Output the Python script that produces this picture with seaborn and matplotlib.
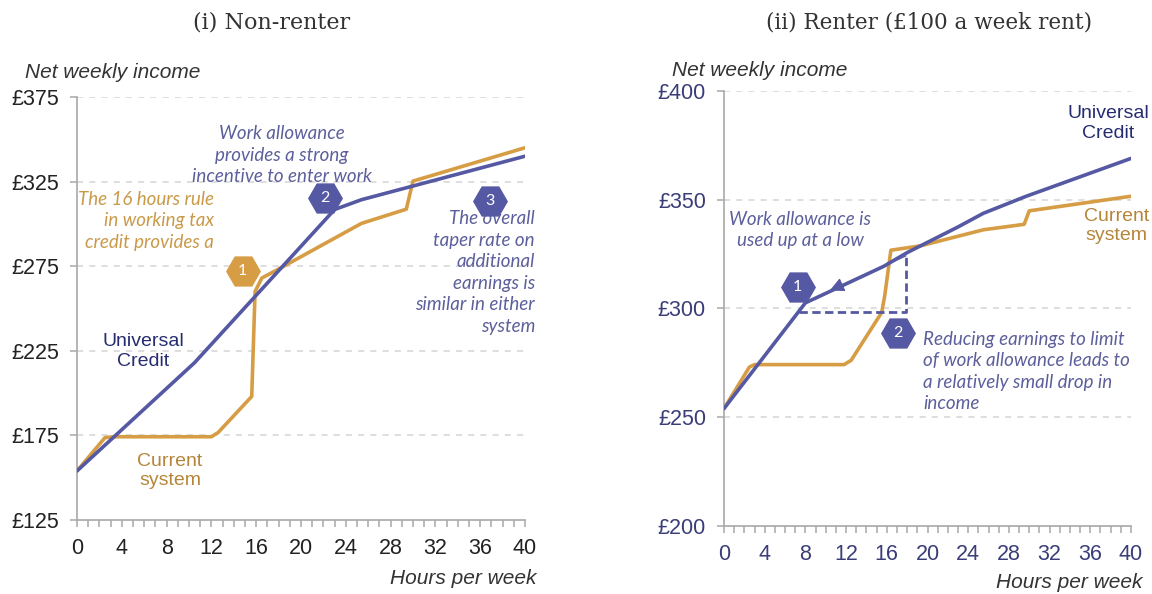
import matplotlib
matplotlib.use("Agg")
import matplotlib.pyplot as plt
import seaborn as sns
import numpy as np
import pandas as pd

# ---------------- data ----------------
hours_ticks = [0, 4, 8, 12, 16, 20, 24, 28, 32, 36, 40]

# (i) Non-renter
uc_nr_hours = [0, 10.5, 23.0, 25.4, 40]
uc_nr_income = [154, 218, 308.5, 314.3, 340]
cs_nr_hours = [0, 2.5, 3.3, 12.0, 12.6, 15.6, 15.9, 16.5, 17.8, 25.4, 29.4, 30.0, 40]
cs_nr_income = [154, 173.7, 174.2, 174.2, 176.7, 198, 260, 268, 272.6, 300.3, 308.7, 325.3, 345]
nr_yticks = [125, 175, 225, 275, 325, 375]

# (ii) Renter
uc_r_hours = [0, 8, 10.3, 15.7, 18, 23, 25.5, 29.7, 40]
uc_r_income = [254, 302.6, 307.6, 319.4, 325.7, 337.5, 343.8, 351.6, 369]
cs_r_hours = [0, 2.5, 3, 11.8, 12.5, 15.5, 15.8, 16.4, 19.3, 25.5, 29.5, 30, 40]
cs_r_income = [254, 273.1, 274.2, 274.2, 276.2, 298.2, 306, 326.8, 328.8, 336.2, 338.7, 344.9, 351.6]
r_yticks = [200, 250, 300, 350, 400]

# work allowance illustration (renter)
wa_hours = [7.33, 17.93, 17.93]
wa_income = [298.5, 298.5, 323.5]

# ---------------- style ----------------
sns.set_theme(style="white")
plt.rcParams['font.family'] = ['Liberation Sans', 'DejaVu Sans']

BLUE = "#5558a2"
ORANGE = "#d69d45"
NAVY = "#252c70"
ANNO_BLUE = "#5d5f9c"
ANNO_ORANGE = "#c99a4a"
LBL_ORANGE = "#b5863a"
GRID = "#d4d4d4"
SPINE = "#a8a8a8"
ANNO_FONT = dict(family=['Lato', 'DejaVu Sans'], style='italic', fontweight='normal')
LS_ANNO = 1.32
LS_LBL = 1.2

fig = plt.figure(figsize=(11.52, 5.94), dpi=100)
W, H = 1152, 594
ax1 = fig.add_axes([77 / W, 1 - 520 / H, 448 / W, 423 / H])
ax2 = fig.add_axes([724 / W, 1 - 526 / H, 407 / W, 435 / H])


def style_axis(ax, yticks, ylabcolor):
    ax.set_xlim(0, 40)
    ax.set_ylim(yticks[0], yticks[-1])
    ax.set_xticks(hours_ticks)
    ax.set_xticks(np.arange(0, 41, 1), minor=True)
    ax.set_yticks(yticks)
    ax.set_xticklabels([str(h) for h in hours_ticks], fontsize=15.5, color=ylabcolor)
    ax.set_yticklabels([f"£{v}" for v in yticks], fontsize=15.5, color=ylabcolor)
    for y in yticks[1:]:
        ax.axhline(y, color=GRID, lw=1.1, ls=(0, (4, 4)), zorder=0)
    for s in ['top', 'right']:
        ax.spines[s].set_visible(False)
    for s in ['left', 'bottom']:
        ax.spines[s].set_color(SPINE)
        ax.spines[s].set_linewidth(1.2)
    ax.tick_params(axis='x', which='both', direction='out', length=5, width=1.1,
                   color=SPINE, bottom=True)
    ax.tick_params(axis='x', which='major', pad=8)
    ax.tick_params(axis='y', which='major', direction='out', length=5, width=1.1,
                   color=SPINE, left=True, pad=8)
    ax.set_xlabel("")
    ax.set_ylabel("")


def hexmark(ax, x, y, label, color):
    ax.plot([x], [y], marker='H', ms=24, color=color, mec=color, zorder=6, clip_on=False)
    ax.text(x, y, label, ha='center', va='center', color='white', fontsize=11.5,
            family=['Lato', 'DejaVu Sans'], zorder=7)


# ---------------- panel (i) ----------------
sns.lineplot(x=uc_nr_hours, y=uc_nr_income, ax=ax1, color=BLUE, lw=2.6, zorder=4)
sns.lineplot(x=cs_nr_hours, y=cs_nr_income, ax=ax1, color=ORANGE, lw=2.6, zorder=3)
style_axis(ax1, nr_yticks, "#222222")

ax1.text(18.3, 340.6, "Work allowance\nprovides a strong\nincentive to enter work",
         ha='center', va='center', color=ANNO_BLUE, fontsize=13.5, linespacing=LS_ANNO,
         **ANNO_FONT)
ax1.text(12.2, 301.9, "The 16 hours rule\nin working tax\ncredit provides a",
         ha='right', va='center', color=ANNO_ORANGE, fontsize=13.5, linespacing=LS_ANNO,
         **ANNO_FONT)
ax1.text(40.9, 271.3, "The overall\ntaper rate on\nadditional\nearnings is\nsimilar in either\nsystem",
         ha='right', va='center', color=ANNO_BLUE, fontsize=13.5, linespacing=LS_ANNO,
         clip_on=False, **ANNO_FONT)
ax1.text(5.9, 224.5, "Universal\nCredit", ha='center', va='center', color=NAVY,
         fontsize=14, linespacing=LS_LBL)
ax1.text(8.3, 154, "Current\nsystem", ha='center', va='center', color=LBL_ORANGE,
         fontsize=14, linespacing=LS_LBL)
hexmark(ax1, 14.8, 272.2, "1", ORANGE)
hexmark(ax1, 22.1, 315.3, "2", BLUE)
hexmark(ax1, 36.9, 313.7, "3", BLUE)

# ---------------- panel (ii) ----------------
sns.lineplot(x=uc_r_hours, y=uc_r_income, ax=ax2, color=BLUE, lw=2.6, zorder=4)
sns.lineplot(x=cs_r_hours, y=cs_r_income, ax=ax2, color=ORANGE, lw=2.6, zorder=3)
style_axis(ax2, r_yticks, "#3a3d78")
ax2.plot(wa_hours, wa_income, color=BLUE, lw=2, ls=(0, (3, 1.6)), zorder=5)
ax2.annotate("", xy=(10.4, 308.3), xytext=(17.9, 324.2),
             arrowprops=dict(arrowstyle='-|>', color=BLUE, lw=0.8, mutation_scale=22,
                             shrinkA=0, shrinkB=0), zorder=6)

ax2.text(7.5, 336.2, "Work allowance is\nused up at a low", ha='center', va='center',
         color=ANNO_BLUE, fontsize=13.5, linespacing=LS_ANNO, **ANNO_FONT)
ax2.text(19.6, 271, "Reducing earnings to limit\nof work allowance leads to\na relatively small drop in\nincome",
         ha='left', va='center', color=ANNO_BLUE, fontsize=13.5, linespacing=LS_ANNO,
         **ANNO_FONT)
ax2.text(37.8, 385, "Universal\nCredit", ha='center', va='center', color=NAVY,
         fontsize=14, linespacing=LS_LBL, clip_on=False)
ax2.text(38.6, 338, "Current\nsystem", ha='center', va='center', color=LBL_ORANGE,
         fontsize=14, linespacing=LS_LBL, clip_on=False)
hexmark(ax2, 7.25, 309.7, "1", BLUE)
hexmark(ax2, 17.1, 288.8, "2", BLUE)

# ---------------- titles & axis captions ----------------
fig.text(272 / W, 1 - 22 / H, "(i) Non-renter", ha='center', va='center',
         family=['DejaVu Serif'], fontsize=16, color="#333333")
fig.text(929 / W, 1 - 22 / H, "(ii) Renter (£100 a week rent)", ha='center', va='center',
         family=['DejaVu Serif'], fontsize=15.5, color="#333333")
cap = dict(fontsize=15, style='italic', color="#333333", va='center')
fig.text(25 / W, 1 - 72 / H, "Net weekly income", ha='left', **cap)
fig.text(672 / W, 1 - 70 / H, "Net weekly income", ha='left', **cap)
fig.text(536 / W, 1 - 578 / H, "Hours per week", ha='right', **cap)
fig.text(1143 / W, 1 - 583 / H, "Hours per week", ha='right', **cap)

fig.savefig("out.png", dpi=100)
